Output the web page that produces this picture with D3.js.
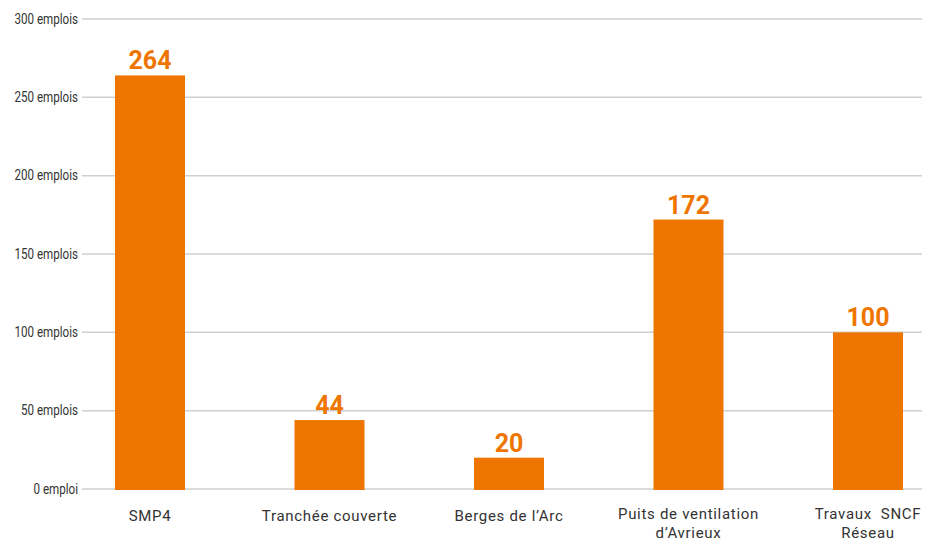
<!DOCTYPE html>
<html>
<head>
<meta charset="utf-8">
<script src="https://cdn.jsdelivr.net/npm/d3@7"></script>
<style>
  html, body { margin: 0; padding: 0; background: #fff; }
  svg { display: block; }
</style>
</head>
<body>
<svg id="chart" width="928" height="541"></svg>
<script>
const categories = ["SMP4", "Tranchée couverte", "Berges de l’Arc", "Puits de ventilation\nd’Avrieux", "Travaux  SNCF\nRéseau"];
const values = [264, 44, 20, 172, 100];
const yTicks = [0, 50, 100, 150, 200, 250, 300];
const yTickLabels = ["0 emploi", "50 emplois", "100 emplois", "150 emplois", "200 emplois", "250 emplois", "300 emplois"];

const orange = "#EE7600";
const svg = d3.select("#chart");

const y = d3.scaleLinear().domain([0, 300]).range([489, 19]);
const x = d3.scaleBand().domain(categories).range([60.25, 957.75]).paddingInner(0.61).paddingOuter(0.305);

// gridlines
svg.append("g").selectAll("line").data(yTicks).join("line")
  .attr("x1", 82).attr("x2", 922)
  .attr("y1", d => y(d)).attr("y2", d => y(d))
  .attr("stroke", "#cfcfcf").attr("stroke-width", 1.5);

// y labels (condensed)
svg.append("g").selectAll("text").data(yTicks).join("text")
  .attr("transform", d => `translate(78,${y(d) + 4.5}) scale(0.8,1)`)
  .attr("text-anchor", "end")
  .attr("font-family", "Roboto, 'Open Sans', sans-serif")
  .attr("font-size", 14.5)
  .attr("fill", "#333")
  .text((d, i) => yTickLabels[i]);

// bars
svg.append("g").selectAll("rect").data(values).join("rect")
  .attr("x", (d, i) => x(categories[i]))
  .attr("width", x.bandwidth())
  .attr("y", d => y(d))
  .attr("height", d => y(0) - y(d) + 1)
  .attr("fill", orange);

// value labels
svg.append("g").selectAll("text").data(values).join("text")
  .attr("x", (d, i) => x(categories[i]) + x.bandwidth() / 2)
  .attr("y", d => y(d) - 6)
  .attr("text-anchor", "middle")
  .attr("font-family", "Roboto, 'Open Sans', sans-serif")
  .attr("font-weight", "bold")
  .attr("font-size", 25)
  .attr("fill", orange)
  .text(d => d);

// category labels
const cat = svg.append("g").selectAll("text").data(categories).join("text")
  .attr("x", d => x(d) + x.bandwidth() / 2)
  .attr("y", d => d.includes("\n") ? 519 : 521)
  .attr("text-anchor", "middle")
  .attr("font-family", "Roboto, 'Open Sans', sans-serif")
  .attr("font-size", 15)
  .attr("letter-spacing", 0.7)
  .attr("fill", "#333")
  .style("white-space", "pre");
cat.each(function(d) {
  const lines = d.split("\n");
  const t = d3.select(this);
  lines.forEach((l, i) => {
    t.append("tspan")
      .attr("x", x(d) + x.bandwidth() / 2)
      .attr("dy", i === 0 ? 0 : 19)
      .text(l);
  });
});
</script>
</body>
</html>
